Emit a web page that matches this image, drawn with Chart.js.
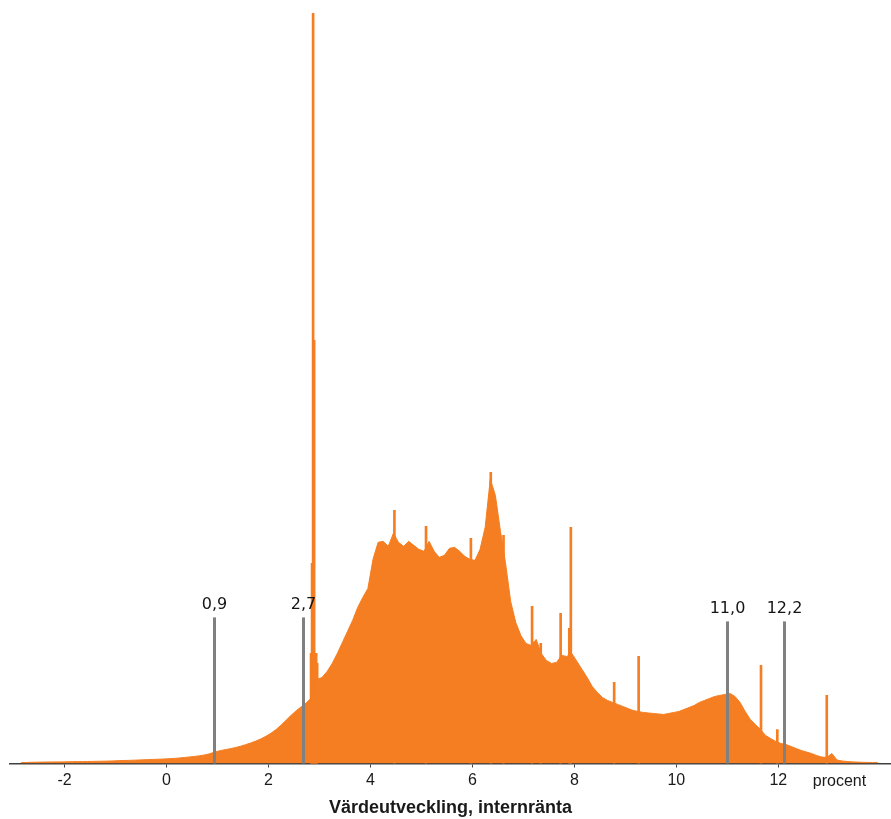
<!DOCTYPE html>
<html>
<head>
<meta charset="utf-8">
<script src="https://cdn.jsdelivr.net/npm/chart.js@4.4.1/dist/chart.umd.min.js"></script>
<style>
html,body{margin:0;padding:0;background:#fff;}
canvas{display:block;}
</style>
</head>
<body>
<canvas id="c" width="891" height="819"></canvas>
<script>
// Histogram of IRR (percent): 0.1-wide bins starting at binStart
const binStart = -2.9;
const binWidth = 0.1;
const binHeights = [
  1, 1, 1.2, 1.3, 1.4, 1.5, 1.5, 1.6, 1.6, 1.7,
  1.8, 1.9, 1.9, 2, 2.1, 2.2, 2.3, 2.4, 2.6, 2.8,
  3, 3.1, 3.3, 3.5, 3.7, 3.9, 4.1, 4.3, 4.5, 4.8,
  5.1, 5.5, 6, 6.5, 7.1, 7.7, 8.6, 9.8, 11.5, 12.8,
  13.8, 14.8, 15.9, 17.2, 18.8, 20.5, 22.4, 24.6, 27.2, 30.3,
  34, 38.5, 43.5, 48.5, 53, 57, 61, 66, 84, 86,
  92, 100, 110, 121, 132, 143, 156, 166, 175, 204,
  221, 222, 217, 230, 221, 217, 222, 218, 214, 212,
  222, 212, 206, 208, 215, 216, 212, 207, 204, 203,
  214, 236, 284, 268, 232, 200, 162, 141, 128, 120,
  118, 124, 110, 103, 100, 101, 108, 107, 110, 102,
  94, 86, 77, 71, 66, 63, 61, 59, 57, 55,
  53, 52, 51, 50.5, 50, 49.5, 49, 50, 51, 52,
  54, 56, 58, 61, 63, 65, 67, 68, 69, 70,
  67, 61, 52, 44, 39, 34, 28, 25, 22, 20,
  19, 17, 15, 13, 11.5, 10, 8, 6.5, 6, 10,
  3.5, 2.5, 2, 1.6, 1.4, 1.2, 1.1, 1, 1
];
// Narrow spikes in the distribution
const spikeX = [2.835, 2.855, 2.875, 2.895, 2.915, 2.935, 2.955, 4.47, 5.09, 5.97, 6.36, 6.61, 7.17, 7.34, 7.73, 7.90, 7.93, 8.78, 9.26, 11.66, 11.98, 12.95];
const spikeH = [110, 200, 750, 423, 110, 110, 100, 253, 237, 225, 291, 228, 157, 120, 150, 135, 236, 81, 107, 98, 34, 68];
// Tick labels
const tickValues = [-2, 0, 2, 4, 6, 8, 10, 12];
const unitLabel = 'procent';
const axisTitle = 'Värdeutveckling, internränta';
// Marker lines
const markerX = [0.93, 2.68, 11.0, 12.11];
const markerLabels = ['0,9', '2,7', '11,0', '12,2'];
const markerH = [146, 146, 142, 142];

const ORANGE = '#F57E22';

const histData = binHeights.map((h, i) => ({ x: +(binStart + (i + 0.5) * binWidth).toFixed(3), y: h }));
const spikeData = spikeX.map((x, i) => ({ x: x, y: spikeH[i] }));

const overlay = {
  id: 'overlay',
  afterDatasetsDraw(chart) {
    const ctx = chart.ctx, xs = chart.scales.x, ys = chart.scales.y;
    ctx.save();
    markerX.forEach((v, i) => {
      const px = Math.round(xs.getPixelForValue(v)) + 0.5;
      const top = ys.getPixelForValue(markerH[i]);
      const bot = ys.getPixelForValue(0);
      ctx.strokeStyle = '#808080';
      ctx.lineWidth = 3;
      ctx.beginPath();
      ctx.moveTo(px, top);
      ctx.lineTo(px, bot);
      ctx.stroke();
      ctx.fillStyle = '#141414';
      ctx.font = '16px "DejaVu Sans"';
      ctx.textAlign = 'center';
      ctx.textBaseline = 'alphabetic';
      ctx.fillText(markerLabels[i], px, top - 8);
    });
    // unit label on the same baseline as the tick labels
    const tickBase = ys.getPixelForValue(0) + 22;
    ctx.fillStyle = '#1a1a1a';
    ctx.font = '16px "Liberation Sans"';
    ctx.textAlign = 'center';
    ctx.textBaseline = 'alphabetic';
    ctx.fillText(unitLabel, xs.getPixelForValue(13.2), tickBase);
    ctx.restore();
  }
};

new Chart(document.getElementById('c'), {
  data: {
    datasets: [
      {
        type: 'line',
        data: histData,
        fill: 'origin',
        backgroundColor: ORANGE,
        borderColor: ORANGE,
        borderWidth: 1,
        pointRadius: 0,
        tension: 0
      },
      {
        type: 'bar',
        data: spikeData,
        backgroundColor: ORANGE,
        borderWidth: 0,
        barThickness: 2,
        grouped: false
      }
    ]
  },
  options: {
    responsive: false,
    animation: false,
    events: [],
    layout: { padding: { top: 13, left: 10, right: 0, bottom: 0 } },
    plugins: { legend: { display: false }, tooltip: { enabled: false }, title: { display: false } },
    scales: {
      x: {
        type: 'linear',
        min: -3.07,
        max: 14.21,
        offset: false,
        afterBuildTicks: (axis) => { axis.ticks = tickValues.map(v => ({ value: v })); },
        ticks: {
          padding: 3.5,
          color: '#1a1a1a',
          font: { family: 'Liberation Sans', size: 16 },
          maxRotation: 0,
          autoSkip: false,
          callback: (v) => String(v)
        },
        grid: { display: true, offset: false, drawOnChartArea: false, tickLength: 4, tickColor: '#444', tickWidth: 1 },
        border: { display: true, color: '#404040', width: 1.5 },
        title: {
          display: true,
          text: axisTitle,
          color: '#1a1a1a',
          font: { family: 'Liberation Sans', size: 18, weight: 'bold' },
          padding: { top: 3.7, bottom: 0 }
        }
      },
      y: {
        type: 'linear',
        display: false,
        min: 0,
        max: 750
      }
    }
  },
  plugins: [overlay]
});
</script>
</body>
</html>
